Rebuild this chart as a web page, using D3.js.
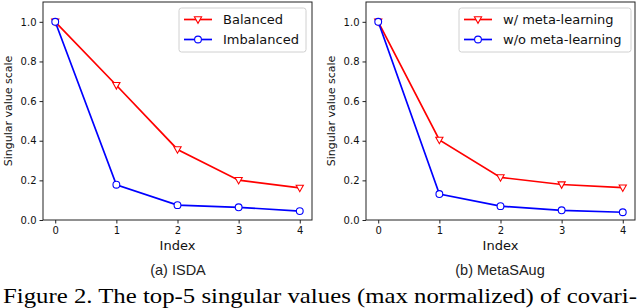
<!DOCTYPE html>
<html>
<head>
<meta charset="utf-8">
<script src="https://cdn.jsdelivr.net/npm/d3@7"></script>
<style>
  body { margin: 0; background: #fff; }
  svg text { font-family: 'DejaVu Sans', sans-serif; }
</style>
</head>
<body>
<div id="chart"></div>
<script>
// index along x
var indices = [0, 1, 2, 3, 4];
var yTicks = [0.0, 0.2, 0.4, 0.6, 0.8, 1.0];

// (a) ISDA
var balanced   = [1.0, 0.68, 0.356, 0.201, 0.162];
var imbalanced = [1.0, 0.178, 0.075, 0.064, 0.045];

// (b) MetaSAug
var withMeta    = [1.0, 0.404, 0.215, 0.179, 0.163];
var withoutMeta = [1.0, 0.131, 0.070, 0.049, 0.039];

var panels = [
  { left: 43, caption: "(a) ISDA", captionX: 178,
    series: [ { name: "Balanced", values: balanced, color: "#ff0000", marker: "tri" },
              { name: "Imbalanced", values: imbalanced, color: "#0000ff", marker: "circle" } ],
    legend: { x: 179, w: 127 } },
  { left: 366, caption: "(b) MetaSAug", captionX: 500,
    series: [ { name: "w/ meta-learning", values: withMeta, color: "#ff0000", marker: "tri" },
              { name: "w/o meta-learning", values: withoutMeta, color: "#0000ff", marker: "circle" } ],
    legend: { x: 459, w: 172 } }
];

var W = 640, H = 308;
var plotW = 269, plotTop = 2, plotBottom = 220;

var svg = d3.select("#chart").append("svg")
    .attr("width", W).attr("height", H);

function drawMarker(g, kind, cx, cy, color) {
  if (kind === "tri") {
    var s = 3.6;
    g.append("path")
      .attr("d", "M" + (cx - s) + "," + (cy - s * 0.75) + "L" + (cx + s) + "," + (cy - s * 0.75) +
                 "L" + cx + "," + (cy + s * 1.05) + "Z")
      .attr("fill", "#fff").attr("stroke", color).attr("stroke-width", 1.1);
  } else {
    g.append("circle").attr("cx", cx).attr("cy", cy).attr("r", 3.4)
      .attr("fill", "#fff").attr("stroke", color).attr("stroke-width", 1.1);
  }
}

panels.forEach(function (p) {
  var x = d3.scaleLinear().domain([-0.2, 4.2]).range([p.left, p.left + plotW]);
  var y = d3.scaleLinear().domain([0, 1.1]).range([plotBottom, plotTop]);
  var g = svg.append("g");

  // frame
  g.append("rect")
    .attr("x", p.left).attr("y", plotTop)
    .attr("width", plotW).attr("height", plotBottom - plotTop)
    .attr("fill", "none").attr("stroke", "#222").attr("stroke-width", 1);

  // axes
  var xAxis = g.append("g").attr("transform", "translate(0," + plotBottom + ")")
    .call(d3.axisBottom(x).tickValues(indices).tickSize(3.5).tickPadding(3).tickFormat(d3.format("d")));
  var yAxis = g.append("g").attr("transform", "translate(" + p.left + ",0)")
    .call(d3.axisLeft(y).tickValues(yTicks).tickSize(3.5).tickPadding(3).tickFormat(d3.format(".1f")));
  [xAxis, yAxis].forEach(function (a) {
    a.select(".domain").remove();
    a.selectAll("line").attr("stroke", "#222");
    a.selectAll("text").attr("fill", "#111").style("font-size", "10px")
      .style("font-family", "'DejaVu Sans', sans-serif");
  });

  // labels
  g.append("text")
    .attr("x", p.left + plotW / 2).attr("y", 250)
    .attr("text-anchor", "middle").style("font-size", "13px").attr("fill", "#111")
    .text("Index");
  g.append("text")
    .attr("transform", "translate(" + (p.left - 31) + "," + ((plotTop + plotBottom) / 2) + ") rotate(-90)")
    .attr("text-anchor", "middle").style("font-size", "11px").attr("fill", "#111")
    .text("Singular value scale");
  g.append("text")
    .attr("x", p.captionX).attr("y", 275)
    .attr("text-anchor", "middle")
    .style("font-family", "'Liberation Sans', Arial, sans-serif").style("font-size", "14.5px")
    .attr("fill", "#222")
    .text(p.caption);

  // series
  var line = d3.line().x(function (d, i) { return x(indices[i]); }).y(function (d) { return y(d); });
  p.series.forEach(function (s) {
    g.append("path").datum(s.values)
      .attr("d", line).attr("fill", "none")
      .attr("stroke", s.color).attr("stroke-width", 1.7);
    s.values.forEach(function (v, i) {
      drawMarker(g, s.marker, x(indices[i]), y(v), s.color);
    });
  });

  // legend
  var lg = g.append("g");
  lg.append("rect")
    .attr("x", p.legend.x).attr("y", 8)
    .attr("width", p.legend.w).attr("height", 44)
    .attr("rx", 2.5).attr("fill", "#fff").attr("fill-opacity", 0.8)
    .attr("stroke", "#d0d0d0").attr("stroke-width", 1);
  p.series.forEach(function (s, i) {
    var ly = 19.5 + i * 20;
    var lx = p.legend.x + 5;
    lg.append("line")
      .attr("x1", lx).attr("x2", lx + 28).attr("y1", ly).attr("y2", ly)
      .attr("stroke", s.color).attr("stroke-width", 1.7);
    drawMarker(lg, s.marker, lx + 14, ly, s.color);
    lg.append("text")
      .attr("x", lx + 39).attr("y", ly + 4.7)
      .style("font-size", "13px").attr("fill", "#111")
      .text(s.name);
  });
});

// figure caption (cut off at the bottom in the source)
svg.append("text")
  .attr("x", 3).attr("y", 303)
  .attr("textLength", 634).attr("lengthAdjust", "spacingAndGlyphs")
  .style("font-family", "'Liberation Serif', 'Times New Roman', serif")
  .style("font-size", "21px").attr("fill", "#000")
  .text("Figure 2. The top-5 singular values (max normalized) of covari-");
</script>
</body>
</html>
